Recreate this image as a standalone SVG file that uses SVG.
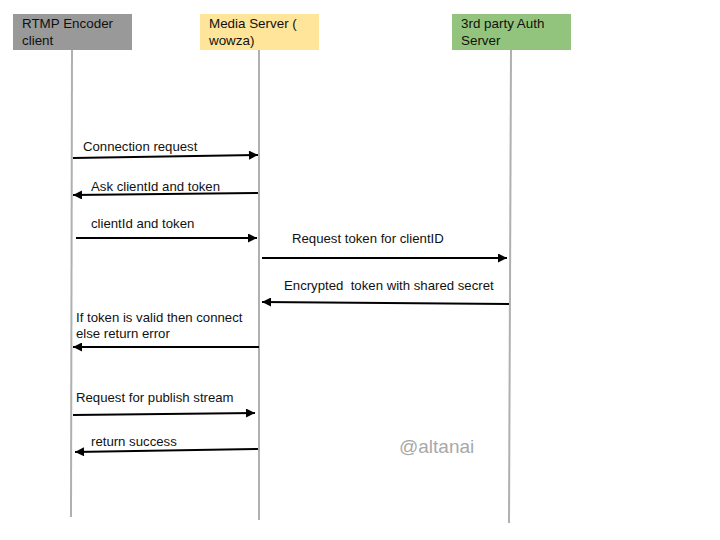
<svg xmlns="http://www.w3.org/2000/svg" width="720" height="540" viewBox="0 0 720 540">
<style>
text{font-family:"Liberation Sans",Arial,sans-serif;font-size:13.2px;fill:#111}
.hd{font-size:13.4px}
.life{stroke:#b0b0b0;stroke-width:2;fill:none}
.msg{stroke:#000;stroke-width:2;fill:none}
.wm{font-size:19px;fill:#a8a8a8}
</style>
<defs>
<marker id="ah" viewBox="0 0 10 10" refX="10" refY="5" markerWidth="6.5" markerHeight="4.5" orient="auto" markerUnits="strokeWidth">
<path d="M0,0 L10,5 L0,10 z" fill="#000"/>
</marker>
</defs>
<rect width="720" height="540" fill="#fff"/>
<g id="lifelines">
<line class="life" x1="72" y1="50" x2="71" y2="517"/>
<line class="life" x1="259" y1="50" x2="259" y2="520"/>
<line class="life" x1="511" y1="50" x2="509" y2="523"/>
</g>
<g id="node-rtmp">
<rect x="13" y="14" width="119" height="36" fill="#999999"/>
<text class="hd" x="22" y="28">RTMP Encoder</text>
<text class="hd" x="22" y="45">client</text>
</g>
<g id="node-media">
<rect x="200" y="14" width="119" height="36" fill="#ffe599"/>
<text class="hd" x="209" y="28">Media Server (</text>
<text class="hd" x="209" y="45">wowza)</text>
</g>
<g id="node-auth">
<rect x="452" y="14" width="119" height="36" fill="#93c47d"/>
<text class="hd" x="461" y="28">3rd party Auth</text>
<text class="hd" x="461" y="45">Server</text>
</g>
<g id="connectors">
<line class="msg" x1="73" y1="158" x2="258" y2="155" marker-end="url(#ah)"/>
<line class="msg" x1="258" y1="193" x2="73" y2="195" marker-end="url(#ah)"/>
<line class="msg" x1="76" y1="238" x2="257" y2="238" marker-end="url(#ah)"/>
<line class="msg" x1="262" y1="258" x2="507" y2="258" marker-end="url(#ah)"/>
<line class="msg" x1="509" y1="304" x2="262" y2="302" marker-end="url(#ah)"/>
<line class="msg" x1="259" y1="347" x2="73" y2="347" marker-end="url(#ah)"/>
<line class="msg" x1="73" y1="415" x2="255" y2="413" marker-end="url(#ah)"/>
<line class="msg" x1="258" y1="449" x2="75" y2="452" marker-end="url(#ah)"/>
</g>
<g id="labels">
<text x="83" y="151">Connection request</text>
<text x="91" y="191">Ask clientId and token</text>
<text x="91" y="228">clientId and token</text>
<text x="292" y="243">Request token for clientID</text>
<text x="284" y="290" xml:space="preserve">Encrypted  token with shared secret</text>
<text x="76" y="322">If token is valid then connect</text>
<text x="76" y="338">else return error</text>
<text x="76" y="402">Request for publish stream</text>
<text x="91" y="446">return success</text>
<text class="wm" x="399" y="453">@altanai</text>
</g>
</svg>
